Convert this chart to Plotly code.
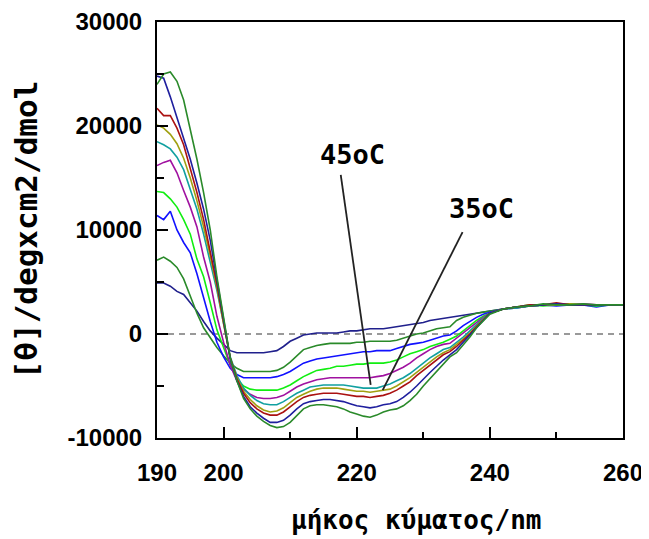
import plotly.graph_objects as go

wavelength = list(range(190, 241)) + [242, 244, 246, 248, 250, 252, 254, 256, 258, 260]

# 10 CD spectra (mean residue ellipticity), highest amplitude first
curve_a = [24000, 25000, 25200, 24300, 22500, 19800, 16800, 13600, 10000, 5500, 1500, -2300, -4500, -6200, -7200, -7900, -8400, -8800, -9000, -8900,
           -8500, -7800, -7200, -6900, -6800, -6800, -6900, -7000, -7200, -7500, -7700, -7900, -8000, -7800, -7500, -7300, -7200, -6900, -6400, -5800,
           -5000, -4300, -3600, -2800, -2200, -1800, -1100, -300, 600, 1300, 1900,
           2400, 2600, 2700, 2900, 2800, 2800, 2900, 2800, 2800, 2800]
curve_b = [24800, 24600, 22800, 20800, 18800, 16800, 14500, 12000, 9000, 5200, 1300, -2400, -4500, -6000, -7000, -7600, -8100, -8500, -8500, -8300,
           -7800, -7200, -6700, -6500, -6400, -6300, -6300, -6400, -6500, -6700, -6900, -7000, -7100, -7000, -6800, -6700, -6500, -6100, -5600, -5000,
           -4300, -3700, -3100, -2500, -2000, -1500, -800, -100, 700, 1400, 2000,
           2400, 2600, 2700, 2800, 2900, 2800, 2800, 2800, 2800, 2800]
curve_c = [21700, 21000, 21000, 19800, 18200, 16000, 13600, 11000, 8000, 4800, 1200, -2300, -4300, -5700, -6600, -7200, -7600, -7800, -7800, -7500,
           -7000, -6500, -6100, -5900, -5800, -5700, -5700, -5700, -5800, -5900, -6000, -6000, -6100, -6000, -5900, -5700, -5400, -5000, -4600, -4000,
           -3500, -3000, -2500, -2000, -1700, -1200, -600, 0, 700, 1400, 2000,
           2400, 2600, 2800, 2800, 3000, 2800, 2800, 2800, 2800, 2800]
curve_d = [20100, 19800, 19200, 18300, 16900, 15000, 12800, 10300, 7500, 4500, 1000, -2300, -4200, -5500, -6300, -6900, -7300, -7500, -7400, -7100,
           -6600, -6100, -5800, -5500, -5300, -5200, -5200, -5200, -5300, -5400, -5500, -5500, -5600, -5500, -5400, -5300, -5000, -4600, -4200, -3700,
           -3200, -2700, -2200, -1800, -1500, -1000, -500, 100, 800, 1400, 2000,
           2400, 2600, 2700, 2800, 2800, 2900, 2800, 2800, 2800, 2800]
curve_e = [18500, 18200, 17800, 17000, 15800, 14000, 12000, 9600, 7000, 4200, 1000, -2200, -4000, -5200, -5900, -6400, -6700, -6800, -6800, -6500,
           -6100, -5700, -5400, -5100, -5000, -4900, -4900, -4900, -4900, -5000, -5100, -5200, -5200, -5200, -5000, -4800, -4500, -4200, -3800, -3300,
           -2800, -2300, -1900, -1500, -1300, -800, -300, 300, 900, 1500, 2000,
           2400, 2500, 2700, 2800, 2800, 2800, 2800, 2800, 2800, 2800]
curve_f = [16200, 16500, 16700, 15500, 13800, 12200, 10300, 7400, 5000, 1700, -800, -3000, -4500, -5300, -5800, -6100, -6200, -6200, -6100, -5900,
           -5500, -5100, -4800, -4600, -4400, -4300, -4200, -4200, -4200, -4200, -4200, -4200, -4200, -4100, -4000, -3800, -3500, -3200, -2800, -2300,
           -1900, -1500, -1200, -1000, -900, -400, 100, 600, 1100, 1600, 2000,
           2400, 2600, 2700, 2800, 2800, 2800, 2900, 2800, 2800, 2800]
curve_g = [13700, 13600, 13000, 12200, 11000, 9600, 7200, 5500, 3000, 400, -1300, -3000, -4300, -5000, -5300, -5400, -5400, -5400, -5400, -5200,
           -4900, -4500, -4100, -3800, -3500, -3400, -3300, -3100, -3100, -3000, -2900, -2900, -2800, -2800, -2800, -2700, -2500, -2200, -1900, -1700,
           -1500, -1200, -1000, -800, -500, -200, 300, 800, 1300, 1700, 2000,
           2400, 2600, 2800, 2700, 2800, 2900, 2800, 2700, 2800, 2800]
curve_h = [11400, 11000, 11800, 10000, 8800, 7800, 5800, 3500, 1200, -800, -2200, -3300, -3900, -4200, -4200, -4200, -4200, -4200, -4100, -3900,
           -3600, -3200, -2800, -2600, -2400, -2300, -2200, -2100, -2000, -1900, -1800, -1700, -1700, -1600, -1600, -1600, -1400, -1200, -1000, -900,
           -800, -600, -400, -200, -100, 300, 800, 1200, 1600, 1900, 2100,
           2400, 2600, 2700, 2800, 2700, 2800, 2800, 2600, 2800, 2800]
curve_i = [7100, 7400, 7000, 6400, 5300, 3600, 2000, 600, -400, -1300, -2100, -2800, -3300, -3600, -3600, -3600, -3600, -3600, -3500, -3200,
           -2700, -2100, -1500, -1300, -1100, -1000, -900, -900, -900, -900, -800, -800, -700, -700, -700, -700, -600, -400, -200, 0,
           100, 300, 500, 600, 700, 1300, 1600, 1800, 2000, 2100, 2200,
           2400, 2600, 2700, 2800, 2800, 2800, 2800, 2800, 2800, 2800]
curve_j = [4900, 4900, 4600, 4100, 3800, 3000, 2200, 1200, 300, -400, -1000, -1600, -1800, -1800, -1800, -1800, -1800, -1700, -1600, -1200,
           -700, -400, -100, 0, 100, 100, 100, 100, 200, 300, 300, 400, 500, 500, 500, 600, 700, 800, 900, 1000,
           1100, 1300, 1400, 1500, 1600, 1700, 1800, 1900, 2000, 2100, 2200,
           2400, 2500, 2700, 2800, 2800, 2800, 2800, 2800, 2800, 2800]

series = [curve_j, curve_i, curve_h, curve_g, curve_f, curve_e, curve_d, curve_c, curve_b, curve_a]
colors = ["#20208c", "#2a8a2a", "#1111ff", "#11ee11", "#a011a0", "#11a0a0", "#a0a010", "#aa1111", "#1f1f9e", "#2a8a2a"]

x_ticks = [190, 200, 220, 240, 260]
y_ticks = [-10000, 0, 10000, 20000, 30000]

label_45 = "45oC"
label_35 = "35oC"
x_title = "μήκος κύματος/nm"
y_title = "[θ]/degxcm2/dmol"

fig = go.Figure()

# zero reference line
fig.add_trace(go.Scatter(x=[190, 260], y=[0, 0], mode="lines",
                         line=dict(color="#999999", width=2, dash="6px,5px"),
                         showlegend=False, hoverinfo="skip"))

for vals, col in zip(series, colors):
    fig.add_trace(go.Scatter(x=wavelength, y=vals, mode="lines",
                             line=dict(color=col, width=1.6),
                             showlegend=False))

# pointer lines for annotations
fig.add_trace(go.Scatter(x=[217.6, 222.1], y=[15300, -4900], mode="lines",
                         line=dict(color="#222222", width=1.8), showlegend=False, hoverinfo="skip"))
fig.add_trace(go.Scatter(x=[235.9, 223.9], y=[9800, -5400], mode="lines",
                         line=dict(color="#222222", width=1.8), showlegend=False, hoverinfo="skip"))

ann_font = dict(family="DejaVu Sans Mono", size=27, color="black", weight="bold")
fig.add_annotation(x=219.4, y=17300, text=label_45, showarrow=False, font=ann_font)
fig.add_annotation(x=238.8, y=12100, text=label_35, showarrow=False, font=ann_font)

# x axis title (offset to the right of plot centre, as in the original)
fig.add_annotation(xref="paper", yref="paper", x=0.555, y=-0.197, xanchor="center", yanchor="middle",
                   text=x_title, showarrow=False,
                   font=dict(family="DejaVu Sans Mono", size=26, color="black", weight="bold"))

tick_font = dict(family="Liberation Sans", size=24, color="black", weight="bold")

fig.update_xaxes(range=[190, 260], tickvals=x_ticks, ticktext=[str(v) for v in x_ticks],
                 ticks="inside", ticklen=11, tickwidth=2, tickcolor="black",
                 minor=dict(tickvals=[210, 230, 250], ticks="inside", ticklen=6, tickwidth=2, tickcolor="black"),
                 showline=True, linecolor="black", linewidth=2, mirror=True, automargin=False,
                 showgrid=False, zeroline=False, tickfont=tick_font, ticklabelstandoff=12)
fig.update_yaxes(range=[-10000, 30000], tickvals=y_ticks, ticktext=[str(v) for v in y_ticks],
                 ticks="inside", ticklen=11, tickwidth=2, tickcolor="black",
                 minor=dict(tickvals=[-5000, 5000, 15000, 25000], ticks="inside", ticklen=7, tickwidth=2, tickcolor="black"),
                 showline=True, linecolor="black", linewidth=2, mirror=True, automargin=False,
                 showgrid=False, zeroline=False, tickfont=tick_font, ticklabelstandoff=8,
                 title=dict(text=y_title, font=dict(family="DejaVu Sans Mono", size=31, color="black", weight="bold"), standoff=24))

# the page body adds an 8px margin, so the figure is 8px smaller than the window
fig.update_layout(width=641, height=531, margin=dict(l=149, r=26, t=14, b=101),
                  plot_bgcolor="white", paper_bgcolor="white", showlegend=False)

fig.write_html("out.html")
